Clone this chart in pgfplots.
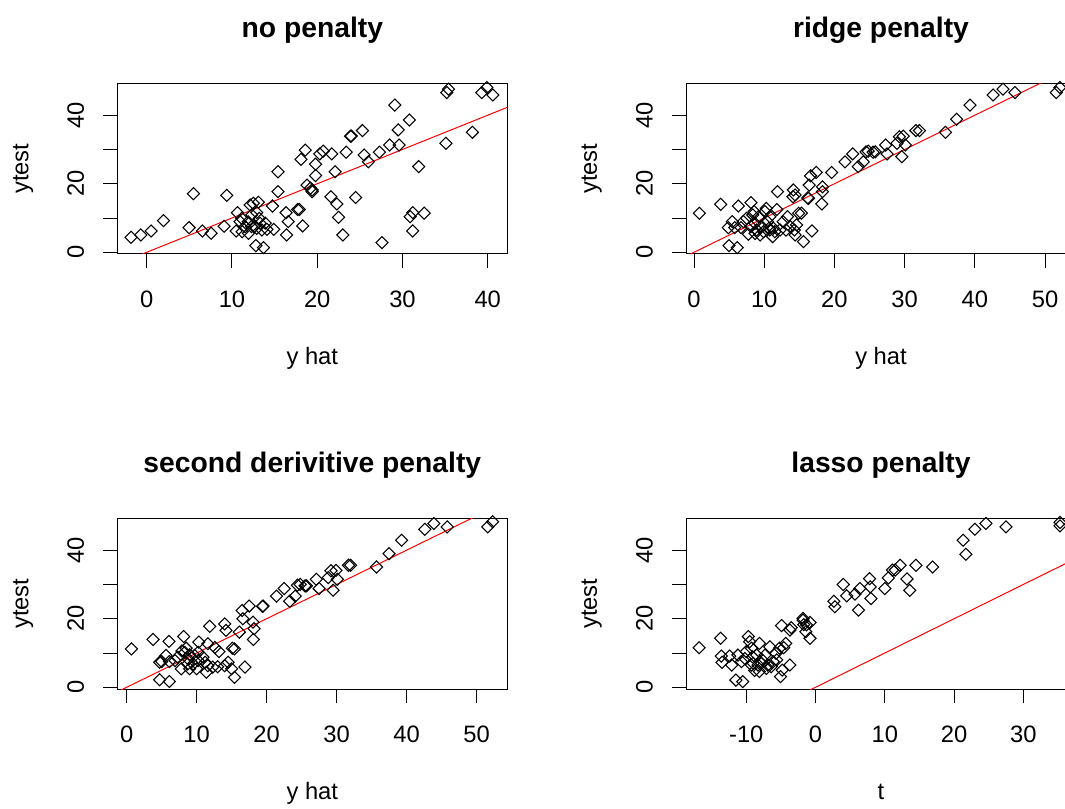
\documentclass[border=0pt]{standalone}
\usepackage{fontspec}
\setmainfont{Liberation Sans}
\usepackage{pgfplots}
\usepackage{pgfplotstable}
\pgfplotsset{compat=1.18}

\newcommand\basefont{\fontsize{17.8pt}{21pt}\selectfont}
\newcommand\titlefont{\fontsize{21.2pt}{25pt}\selectfont\bfseries}

% no penalty: y hat vs ytest
\pgfplotstableread{
x y
-1.84 4.37
-0.70 5.05
0.51 6.22
1.96 9.23
5.48 17.1
4.97 7.19
6.53 6.22
7.55 5.54
9.08 7.58
9.39 16.6
10.64 11.56
10.49 6.22
10.95 8.94
11.54 7.48
11.93 5.54
12.13 13.8
12.32 10.9
12.6 7.48
13.1 14.6
12.9 11.56
13.3 8.45
13.5 6.51
12.8 1.94
13.7 1.36
14.1 6.7
14.9 6.7
14.75 13.5
15.4 23.5
15.4 17.7
16.35 11.56
16.6 8.94
16.4 5.05
17.7 12.5
17.9 12.5
18.3 7.68
18.1 27.1
18.6 29.8
18.8 19.6
19.2 18.7
19.4 17.7
19.4 18.2
19.8 25.7
19.8 22.4
20.3 28.7
20.7 29.5
21.7 28.7
21.6 16.2
22.1 23.5
22.3 14.1
22.5 10.2
23.0 5.05
23.4 29.2
23.9 33.9
24.0 33.9
24.5 16.0
25.3 35.5
25.5 28.4
26.0 26.4
27.3 29.2
27.6 2.82
28.5 31.3
29.1 42.95
29.5 35.7
29.6 31.3
30.8 38.6
30.9 10.4
31.2 11.56
31.2 6.22
31.9 25.0
32.55 11.4
35.1 31.8
35.2 46.6
35.4 47.6
38.2 35.0
39.3 46.6
39.9 48.1
40.6 45.9
11.15 9.9
11.9 8.9
12.3 7.5
12.9 7.0
13.2 9.9
12.5 14.3
11.2 6.0
13.9 8.5
}\nopen

% ridge penalty
\pgfplotstableread{
x y
0.76 11.4
3.80 14.0
4.99 1.94
6.17 1.36
4.89 7.19
5.46 8.94
6.32 13.5
6.70 7.19
7.03 8.94
7.74 5.25
8.12 14.5
8.36 10.9
8.55 11.9
8.69 8.45
8.93 6.51
9.40 5.05
9.64 7.48
10.1 11.9
10.45 8.94
10.7 7.0
11.2 4.57
11.5 6.0
11.8 12.5
11.9 17.7
12.25 6.51
13.1 6.51
13.3 10.4
14.15 18.2
14.4 16.7
14.3 6.51
14.4 5.05
14.6 7.97
14.9 11.4
15.3 11.4
15.6 3.11
16.2 15.9
16.4 19.6
16.6 22.3
16.8 6.22
17.4 23.3
18.2 14.1
18.3 17.7
18.3 19.1
19.6 23.3
21.5 26.4
22.6 28.7
23.4 25.0
24.1 26.4
24.5 29.3
24.8 29.5
25.5 29.2
25.8 29.3
27.3 31.3
27.5 28.7
28.9 31.8
29.25 33.7
29.8 33.9
29.6 27.9
30.1 31.3
31.6 35.5
32.1 35.5
35.8 35.0
37.4 38.8
39.3 42.95
42.6 45.9
44.0 47.6
45.7 46.6
51.6 46.6
52.1 48.1
7.5 9.9
9.2 10.4
10.3 12.8
10.8 10.4
9.9 6.0
11.3 7.0
12.7 8.9
13.7 7.5
5.8 7.2
8.1 7.5
8.7 5.5
10.8 6.5
14.1 16.2
16.3 15.7
}\ridge

% second derivative penalty
\pgfplotstableread{
x y
0.67 11.2
3.76 13.95
6.05 13.4
8.14 14.8
11.86 17.8
14.0 18.5
14.2 16.6
16.5 22.4
17.5 23.7
19.5 23.7
16.6 20.0
18.05 19.0
16.1 16.1
18.1 13.95
15.1 11.4
13.2 10.4
15.4 11.2
14.5 7.3
11.6 12.7
10.3 13.2
8.5 11.4
8.3 10.2
9.0 9.5
10.2 10.2
10.9 8.8
11.2 7.3
10.2 7.8
9.5 6.8
8.7 6.8
7.3 8.8
6.9 7.8
6.1 7.5
5.6 9.3
5.0 7.5
4.7 7.3
7.8 5.4
9.0 5.4
10.0 5.4
11.4 4.4
12.3 5.9
13.0 6.0
14.0 6.3
15.0 5.4
16.9 5.9
15.4 2.9
4.7 2.2
6.1 1.7
11.6 6.3
9.7 9.3
18.2 17.1
19.4 23.6
21.4 26.6
22.5 28.8
23.3 25.1
24.1 26.6
24.4 29.8
24.8 30.0
25.5 29.6
25.7 29.6
27.1 31.5
27.5 28.8
28.8 32.0
29.2 34.0
29.9 34.1
29.5 28.3
30.1 31.5
31.7 35.6
32.0 35.6
35.7 35.1
37.5 39.0
39.3 42.9
42.6 46.1
43.9 47.8
45.8 46.8
51.6 46.8
52.3 48.3
8.8 8.2
12.6 11.6
7.9 10.6
}\second

% lasso penalty
\pgfplotstableread{
x y
-16.8 11.55
-13.7 14.3
-13.6 9.1
-13.5 7.3
-12.4 9.1
-12.1 6.5
-11.5 2.1
-10.5 1.65
-11.2 9.4
-10.7 7.5
-10.2 8.4
-9.7 14.8
-9.5 13.3
-9.25 11.4
-9.1 8.9
-9.0 7.0
-8.8 4.9
-8.3 6.5
-8.1 12.8
-8.1 4.6
-7.7 8.0
-7.3 9.4
-6.9 6.5
-6.6 11.8
-6.1 7.5
-5.6 8.0
-5.7 9.9
-5.06 3.1
-4.8 5.0
-4.6 11.55
-4.3 12.8
-4.9 18.0
-3.7 6.5
-3.7 16.7
-3.5 17.4
-1.8 20.1
-1.7 18.3
-1.3 18.2
-0.8 18.9
-1.4 16.2
-0.8 14.3
2.65 25.1
2.8 23.5
4.0 30.0
4.5 26.7
5.7 27.2
6.2 22.5
6.4 28.8
7.8 31.7
7.9 29.3
8.0 25.9
10.0 28.8
10.5 31.9
11.1 34.2
11.5 34.2
12.2 35.6
13.2 31.6
13.6 28.3
14.5 35.6
16.9 35.1
21.3 42.9
21.7 38.8
23.0 46.1
24.6 47.8
27.5 46.8
35.3 47.1
35.3 48.1
-10.0 10.4
-8.5 9.4
-7.8 7.0
-7.1 5.5
-6.4 6.0
-9.25 6.5
-5.2 11.4
-1.8 19.6
}\lasso

\pgfplotsset{
  rpanel/.style={
    scale only axis, width=292.5pt, height=128pt,
    anchor=south west,
    ymin=-0.5, ymax=49.3,
    axis line style={line width=0.75pt},
    tick style={line width=0.75pt, black},
    tick align=outside, major tick length=10.5pt,
    xtick pos=bottom, ytick pos=left,
    ytick={0,10,20,30,40}, yticklabels={0,,20,,40},
    every axis title/.style={at={(0.5,1)}, anchor=base, yshift=34.5pt, font=\titlefont},
    xticklabel style={anchor=base, yshift=-29.8pt, font=\basefont},
    yticklabel style={rotate=90, anchor=base, yshift=14.6pt, font=\basefont},
    every axis x label/.style={at={(axis description cs:0.5,0)}, anchor=base, yshift=-82.9pt, font=\basefont},
    every axis y label/.style={at={(axis description cs:0,0.5)}, rotate=90, anchor=base, yshift=66.8pt, font=\basefont},
    ylabel={ytest},
  },
  pts/.style={only marks, mark=square, mark size=3.2pt, mark options={rotate=45, line width=0.8pt, black}},
  fit/.style={red, line width=0.75pt, no marks},
}

\begin{document}
\begin{tikzpicture}
\useasboundingbox (0,0) rectangle (798.75pt,606pt);
\begin{scope}
\clip (0,0) rectangle (798.75pt,606pt);

\begin{axis}[rpanel, at={(88pt,415.5pt)}, title={no penalty}, xlabel={y hat},
  xmin=-3.45, xmax=42.3, xtick={0,10,20,30,40}, xticklabels={0,10,20,30,40}]
  \addplot[pts] table[x=x, y=y] {\nopen};
  \addplot[fit] coordinates {(-10,-10) (60,60)};
\end{axis}

\begin{axis}[rpanel, at={(514.5pt,415.5pt)}, title={ridge penalty}, xlabel={y hat},
  xmin=-1.14, xmax=54.4, xtick={0,10,20,30,40,50}, xticklabels={0,10,20,30,40,50}]
  \addplot[pts] table[x=x, y=y] {\ridge};
  \addplot[fit] coordinates {(-10,-10) (60,60)};
\end{axis}

\begin{axis}[rpanel, at={(88pt,89.25pt)}, title={second derivitive penalty}, xlabel={y hat},
  xmin=-1.34, xmax=54.4, xtick={0,10,20,30,40,50}, xticklabels={0,10,20,30,40,50}]
  \addplot[pts] table[x=x, y=y] {\second};
  \addplot[fit] coordinates {(-10,-10) (60,60)};
\end{axis}

\begin{axis}[rpanel, at={(514.5pt,89.25pt)}, title={lasso penalty}, xlabel={t},
  xmin=-18.7, xmax=37.6, xtick={-10,0,10,20,30}, xticklabels={-10,0,10,20,30}]
  \addplot[pts] table[x=x, y=y] {\lasso};
  \addplot[fit] coordinates {(-10,-10) (60,60)};
\end{axis}

\end{scope}
\end{tikzpicture}
\end{document}
